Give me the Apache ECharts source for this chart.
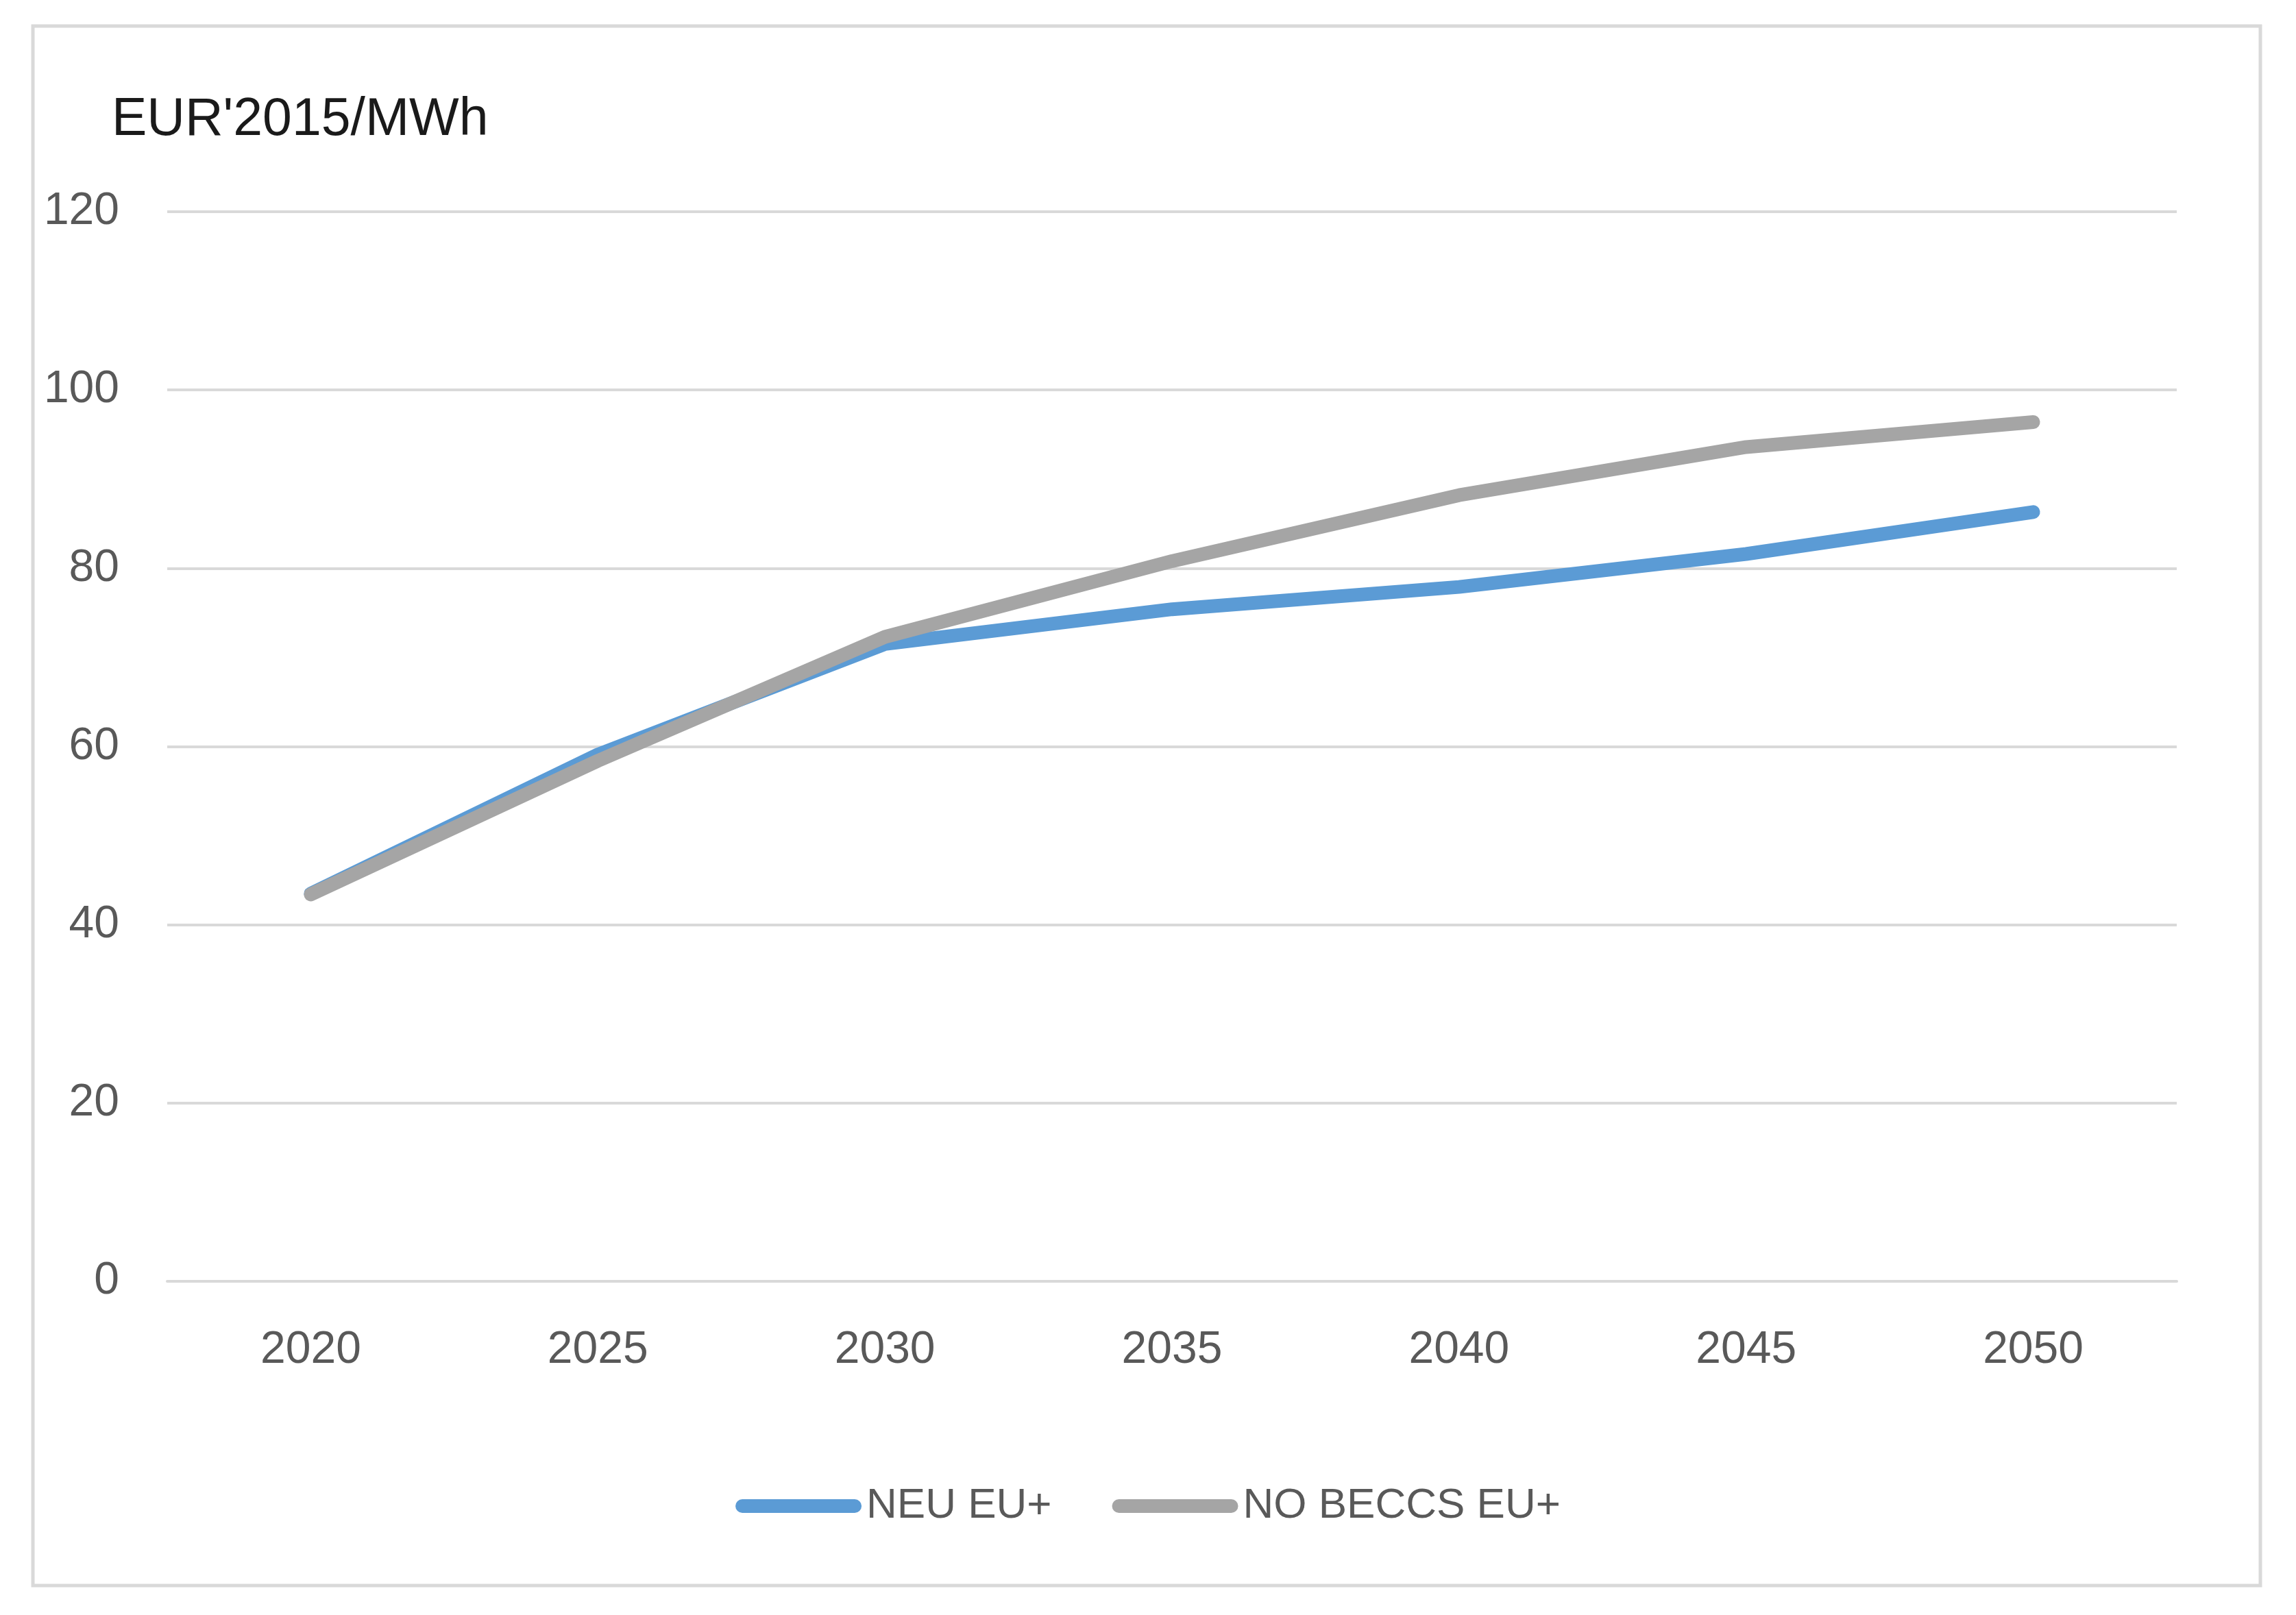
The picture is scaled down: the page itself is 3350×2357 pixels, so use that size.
<!DOCTYPE html>
<html>
<head>
<meta charset="utf-8">
<script src="https://cdn.jsdelivr.net/npm/echarts@6/dist/echarts.min.js"></script>
<style>
html,body{margin:0;padding:0;background:#fff;}
#chart{width:3350px;height:2357px;}
</style>
</head>
<body>
<div id="chart"></div>
<script>
const categories = ['2020','2025','2030','2035','2040','2045','2050'];
const seriesNames = ['NEU EU+','NO BECCS EU+'];
const neuEU = [43.5, 59.1, 71.5, 75.4, 77.9, 81.6, 86.3];
const noBeccsEU = [43.4, 58.4, 72.3, 80.8, 88.2, 93.6, 96.4];
const yTicks = {min:0, max:120, interval:20};
const unitLabel = "EUR'2015/MWh";

const FONT = '"Liberation Sans", Arial, sans-serif';
const stadium = 'path://M10,0 L174,0 A10,10 0 0 1 174,20 L10,20 A10,10 0 0 1 10,0 Z';

const chart = echarts.init(document.getElementById('chart'), null, {renderer:'canvas'});
chart.setOption({
  backgroundColor:'#ffffff',
  animation:false,
  title:{
    text: unitLabel,
    left:163, top:137, padding:0,
    textStyle:{fontFamily:FONT, fontSize:77, fontWeight:'normal', color:'#1a1a1a'}
  },
  graphic:[{
    type:'rect', silent:true, z:-1,
    shape:{x:48, y:38, width:3250, height:2276},
    style:{fill:'#ffffff', stroke:'#d9d9d9', lineWidth:5}
  }],
  legend:{
    data: seriesNames,
    left:'center', top:2167, padding:0,
    itemWidth:184, itemHeight:20, itemGap:88,
    textStyle:{fontFamily:FONT, fontSize:62, color:'#595959', padding:[0,0,0,2]},
    icon: stadium
  },
  grid:{left:244, right:174, top:309, bottom:487, containLabel:false},
  xAxis:{
    type:'category', data:categories, boundaryGap:true,
    axisLine:{show:true, lineStyle:{color:'#d9d9d9', width:4}},
    axisTick:{show:false},
    axisLabel:{fontFamily:FONT, fontSize:66, color:'#595959', margin:68}
  },
  yAxis:{
    type:'value', min:yTicks.min, max:yTicks.max, interval:yTicks.interval,
    axisLine:{show:false}, axisTick:{show:false},
    splitLine:{lineStyle:{color:'#d9d9d9', width:4}},
    axisLabel:{fontFamily:FONT, fontSize:66, color:'#595959', margin:70}
  },
  series:[
    {name:seriesNames[0], type:'line', data:neuEU, symbol:'none', smooth:false,
     itemStyle:{color:'#5b9bd5'},
     lineStyle:{color:'#5b9bd5', width:20, cap:'round', join:'round'}},
    {name:seriesNames[1], type:'line', data:noBeccsEU, symbol:'none', smooth:false,
     itemStyle:{color:'#a5a5a5'},
     lineStyle:{color:'#a5a5a5', width:20, cap:'round', join:'round'}}
  ]
});
</script>
</body>
</html>
